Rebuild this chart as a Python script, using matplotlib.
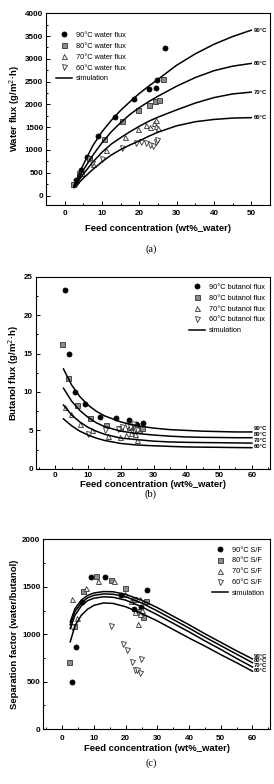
import numpy as np
import matplotlib
matplotlib.use('Agg')
import matplotlib.pyplot as plt
from matplotlib.ticker import MultipleLocator

plt.rcParams['font.family'] = ['Liberation Sans', 'DejaVu Sans']

TEMPS = ['90', '80', '70', '60']

# feed concentration (wt% water) of the experimental points
x90 = [3, 4.3, 6.1, 9, 13.6, 18.6, 22.6, 24.6, 24.8, 26.8]
x80 = [2.1, 3.8, 6.5, 10.6, 15.4, 19.7, 22.6, 24.2, 25.4, 26.4]
x70 = [3, 4.7, 7.6, 11.2, 16.2, 19.7, 21.7, 23.0, 23.9, 24.4, 24.6, 25]
x60 = [3, 7.4, 10.1, 15.3, 19.2, 20.4, 21.9, 22.8, 23.7, 24.4, 24.8]

# (a) water flux
wf90 = [350, 570, 850, 1310, 1715, 2130, 2345, 2370, 2530, 3245]
wf80 = [260, 500, 830, 1230, 1635, 1877, 1986, 2075, 2090, 2550]
wf70 = [350, 500, 700, 990, 1275, 1466, 1540, 1510, 1600, 1525, 1657, 1473]
wf60 = [250, 703, 806, 1048, 1143, 1173, 1143, 1100, 1085, 1173, 1217]

# (b) butanol flux
bf90 = [23.3, 15.0, 10.0, 8.4, 6.8, 6.6, 6.3, 5.9, 5.7, 6.0]
bf80 = [16.3, 11.8, 8.3, 6.6, 5.7, 5.3, 5.4, 5.4, 5.1, 5.3]
bf70 = [8.1, 7.2, 5.9, 5.1, 4.3, 4.2, 4.4, 4.6, 5.0, 4.5, 5.6, 3.7]
x60b = [10.1, 15.3, 19.2, 20.4, 21.9, 22.8, 23.7, 24.4, 24.8]
bf60 = [4.5, 5.0, 5.2, 5.5, 5.6, 5.4, 5.9, 5.2, 5.0]

# (c) separation factor
sf90 = [499, 868, 1340, 1600, 1600, 1410, 1270, 1230, 1290, 1470]
sf80 = [710, 1090, 1455, 1615, 1570, 1490, 1370, 1240, 1180, 1355]
sf70 = [1370, 1175, 1485, 1565, 1565, 1420, 1350, 1230, 1105, 1210, 1370, 1260]
x60c = [3, 15.3, 19.2, 20.4, 21.9, 22.8, 23.7, 24.4, 24.8]
sf60 = [1080, 1090, 900, 830, 710, 625, 620, 595, 740]

# simulation curves
sim_xa = [2.5, 5, 7.5, 10, 12.5, 15, 17.5, 20, 22.5, 25, 30, 35, 40, 45, 50]
sim_a90 = [220, 680, 1090, 1400, 1650, 1870, 2060, 2240, 2400, 2550, 2860, 3110, 3320, 3490, 3630]
sim_a80 = [200, 560, 880, 1160, 1400, 1600, 1780, 1930, 2060, 2180, 2400, 2590, 2740, 2840, 2900]
sim_a70 = [190, 470, 730, 950, 1130, 1270, 1400, 1520, 1630, 1720, 1880, 2030, 2150, 2230, 2270]
sim_a60 = [170, 380, 570, 740, 890, 1010, 1110, 1200, 1300, 1390, 1530, 1620, 1670, 1700, 1710]

sim_xb = [2.5, 5, 7.5, 10, 12.5, 15, 20, 25, 30, 35, 40, 45, 50, 55, 60]
sim_b90 = [13.0, 10.9, 9.4, 8.3, 7.5, 6.9, 6.1, 5.6, 5.3, 5.1, 5.0, 4.9, 4.85, 4.8, 4.8]
sim_b80 = [10.5, 8.8, 7.6, 6.7, 6.0, 5.5, 4.9, 4.6, 4.4, 4.25, 4.15, 4.1, 4.08, 4.05, 4.05]
sim_b70 = [8.3, 7.0, 6.1, 5.4, 4.9, 4.5, 4.0, 3.8, 3.6, 3.5, 3.45, 3.42, 3.4, 3.37, 3.35]
sim_b60 = [6.5, 5.6, 4.9, 4.4, 4.0, 3.7, 3.3, 3.1, 3.0, 2.92, 2.85, 2.82, 2.8, 2.77, 2.75]

sim_xc = [2.5, 4, 6, 8, 10, 13, 16, 20, 25, 30, 35, 40, 45, 50, 55, 60]
sim_c90 = [1130, 1270, 1360, 1410, 1435, 1450, 1448, 1420, 1360, 1280, 1190, 1100, 1005, 915, 825, 740]
sim_c80 = [1100, 1240, 1330, 1385, 1410, 1425, 1422, 1395, 1330, 1245, 1155, 1065, 970, 880, 790, 700]
sim_c70 = [1060, 1200, 1300, 1355, 1380, 1395, 1390, 1360, 1290, 1205, 1115, 1025, 930, 840, 745, 655]
sim_c60 = [920, 1090, 1200, 1265, 1305, 1330, 1325, 1290, 1220, 1140, 1050, 960, 875, 785, 700, 610]

MARKERS = {
    '90': dict(marker='o', mfc='black', mec='black'),
    '80': dict(marker='s', mfc='#8c8c8c', mec='#333333'),
    '70': dict(marker='^', mfc='#f2f2f2', mec='#333333'),
    '60': dict(marker='v', mfc='white', mec='#333333'),
}


def style_axes(ax, xlim, ylim, ymajor, yminor, xpad, labelpad):
    ax.set_xlim(*xlim)
    ax.set_ylim(*ylim)
    ax.xaxis.set_major_locator(MultipleLocator(10))
    ax.xaxis.set_minor_locator(MultipleLocator(5))
    ax.yaxis.set_major_locator(MultipleLocator(ymajor))
    ax.yaxis.set_minor_locator(MultipleLocator(yminor))
    ax.tick_params(which='both', direction='in', top=False, right=False,
                   labelsize=5.8, width=0.7)
    ax.tick_params(axis='x', pad=xpad)
    ax.tick_params(axis='y', pad=2)
    ax.tick_params(which='major', length=3)
    ax.tick_params(which='minor', length=1.6)
    for lab in ax.get_xticklabels() + ax.get_yticklabels():
        lab.set_fontweight('bold')
    for s in ax.spines.values():
        s.set_linewidth(0.8)
    ax.set_xlabel('Feed concentration (wt%_water)', fontsize=6.8,
                  fontweight='bold', labelpad=labelpad)


def draw_panel(ax, xs, ys, sim_x, sims, suffix, label_y, label_x):
    for t, x, y in zip(TEMPS, xs, ys):
        ax.plot(x, y, ls='none', ms=3.6, mew=0.6, label=f'{t}°C {suffix}',
                **MARKERS[t])
    for i, (t, s) in enumerate(zip(TEMPS, sims)):
        ax.plot(sim_x, s, color='black', lw=1.1,
                label='simulation' if i == 0 else None)
        ax.text(label_x, label_y[i], f'{t}°C', fontsize=4.2,
                fontweight='bold', va='center', ha='left')


def add_legend(ax, **kw):
    ax.legend(fontsize=5.3, frameon=False, handlelength=2.2, handletextpad=0.5,
              labelspacing=0.5, borderpad=0.2, **kw)


fig = plt.figure(figsize=(2.74, 7.84), dpi=100)

# (a)
ax1 = fig.add_axes([0.168, 0.739, 0.817, 0.244])
draw_panel(ax1, [x90, x80, x70, x60], [wf90, wf80, wf70, wf60], sim_xa,
           [sim_a90, sim_a80, sim_a70, sim_a60], 'water flux',
           [sim_a90[-1], sim_a80[-1], sim_a70[-1], sim_a60[-1]], 50.6)
style_axes(ax1, (-5, 55), (-200, 4000), 500, 250, xpad=4, labelpad=5)
ax1.set_ylabel('Water flux (g/m$^2$·h)', fontsize=6.8, fontweight='bold', labelpad=2)
add_legend(ax1, loc='upper left', bbox_to_anchor=(0.02, 0.93))

# (b)
ax2 = fig.add_axes([0.130, 0.402, 0.855, 0.245])
draw_panel(ax2, [x90, x80, x70, x60b], [bf90, bf80, bf70, bf60], sim_xb,
           [sim_b90, sim_b80, sim_b70, sim_b60], 'butanol flux',
           [5.2, 4.45, 3.7, 2.95], 60.6)
style_axes(ax2, (-6, 65.5), (0, 25), 5, 2.5, xpad=2.5, labelpad=0.5)
ax2.set_ylabel('Butanol flux (g/m$^2$·h)', fontsize=6.8, fontweight='bold', labelpad=2)
add_legend(ax2, loc='upper right', bbox_to_anchor=(1.0, 0.99))

# (c)
ax3 = fig.add_axes([0.158, 0.070, 0.827, 0.242])
draw_panel(ax3, [x90, x80, x70, x60c], [sf90, sf80, sf70, sf60], sim_xc,
           [sim_c90, sim_c80, sim_c70, sim_c60], 'S/F',
           [770, 720, 668, 615], 60.4)
style_axes(ax3, (-6, 65.5), (0, 2000), 500, 250, xpad=4, labelpad=2)
ax3.set_ylabel('Separation factor (water/butanol)', fontsize=6.8,
               fontweight='bold', labelpad=2)
add_legend(ax3, loc='upper right', bbox_to_anchor=(1.0, 0.99))

for y, s in [(1 - 249 / 784, '(a)'), (1 - 494 / 784, '(b)'), (1 - 763 / 784, '(c)')]:
    fig.text(0.55, y, s, ha='center', va='center', fontsize=7.5, family='Liberation Serif')

fig.savefig('out.png', dpi=100)
